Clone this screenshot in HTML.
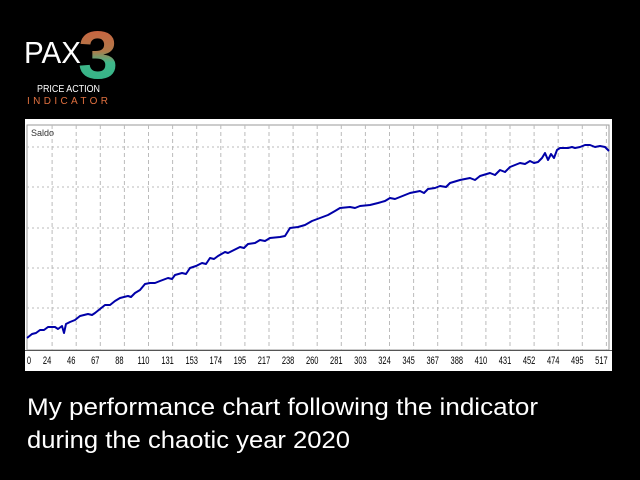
<!DOCTYPE html>
<html><head><meta charset="utf-8"><style>html,body{margin:0;padding:0;background:#000;width:640px;height:480px;overflow:hidden}</style></head>
<body>
<svg width="640" height="480" xmlns="http://www.w3.org/2000/svg" font-family="Liberation Sans, sans-serif">
<defs>
<linearGradient id="g3" x1="0" y1="0" x2="0" y2="1">
<stop offset="0" stop-color="#d9573a"/><stop offset="0.45" stop-color="#b07a4a"/><stop offset="0.6" stop-color="#3fb88a"/><stop offset="1" stop-color="#2fae86"/>
</linearGradient>
</defs>
<rect width="640" height="480" fill="#000"/>
<text x="24" y="63" fill="#fff" font-size="31" textLength="57" lengthAdjust="spacingAndGlyphs">PAX</text>
<text x="78" y="78" fill="url(#g3)" font-size="68" font-weight="bold" textLength="40" lengthAdjust="spacingAndGlyphs">3</text>
<text x="37" y="92" fill="#fff" font-size="10" textLength="63" lengthAdjust="spacingAndGlyphs">PRICE ACTION</text>
<text x="27" y="104" fill="#e0703f" font-size="10" textLength="81" lengthAdjust="spacing">INDICATOR</text>
<rect x="25" y="119" width="587" height="252" fill="#fff"/>
<rect x="27" y="125" width="582" height="225" fill="none" stroke="#999" stroke-width="1"/>
<text x="31" y="136" font-size="9" fill="#333">Saldo</text>
<g stroke="#bbb" stroke-width="1" stroke-dasharray="2,3">
<line x1="27" y1="147" x2="609" y2="147"/><line x1="27" y1="187" x2="609" y2="187"/>
<line x1="27" y1="228" x2="609" y2="228"/><line x1="27" y1="268" x2="609" y2="268"/>
<line x1="27" y1="308" x2="609" y2="308"/>
</g>
<g stroke="#bbb" stroke-width="1" stroke-dasharray="4,3" id="vg"></g>
<g font-size="10" fill="#000" text-anchor="middle" id="lbl"></g>
<polyline fill="none" stroke="#0000a8" stroke-width="2" stroke-linejoin="round" points="27,338 32,334 36,333 40,330 44,330 48,327 55,327 58,329 62,326 64,333 66,324 70,322 75,320 80,316 88,314 92,315 95,313 100,309 105,305 110,305 115,301 120,298 128,296 131,297 135,293 140,290 145,284 150,283 155,283 160,281 168,278 172,279 175,275 182,273 186,274 190,268 196,266 202,263 206,264 210,258 214,259 218,256 225,252 228,253 232,251 240,247 244,248 248,244 255,243 260,240 265,241 270,238 280,237 285,236 290,228 298,227 305,225 312,221 320,218 328,215 335,211 340,208 350,207 355,208 360,206 370,205 378,203 385,201 390,198 395,199 400,197 410,193 420,191 424,193 428,189 435,188 440,186 446,187 450,183 460,180 470,178 475,180 480,176 490,173 495,175 500,170 505,172 510,167 520,163 525,164 530,161 534,163 538,162 542,158 545,153 548,160 551,154 554,158 557,150 560,148 568,148 572,147 575,148 580,147 585,145 590,145 595,147 600,146 605,147 609,151"/>
<rect x="25" y="350" width="587" height="1" fill="#555"/>
<text x="27" y="415" fill="#fff" font-size="24" textLength="511" lengthAdjust="spacingAndGlyphs">My performance chart following the indicator</text>
<text x="27" y="448" fill="#fff" font-size="24" textLength="323" lengthAdjust="spacingAndGlyphs">during the chaotic year 2020</text>
</svg>
<script>
var labs=[0,24,46,67,88,110,131,153,174,195,217,238,260,281,303,324,345,367,388,410,431,452,474,495,517];
var vg=document.getElementById('vg'),lb=document.getElementById('lbl'),ns='http://www.w3.org/2000/svg';
labs.forEach(function(v,i){var gx=28+24.1*i;
 if(i>0){var l=document.createElementNS(ns,'line');l.setAttribute('x1',gx);l.setAttribute('x2',gx);l.setAttribute('y1',125);l.setAttribute('y2',350);vg.appendChild(l);}
 var t=document.createElementNS(ns,'text');var cx=(i==0?29:gx-5);
 t.setAttribute('transform','translate('+cx+',364) scale(0.75,1.1)');t.textContent=v;lb.appendChild(t);});
</script>
</body></html>
